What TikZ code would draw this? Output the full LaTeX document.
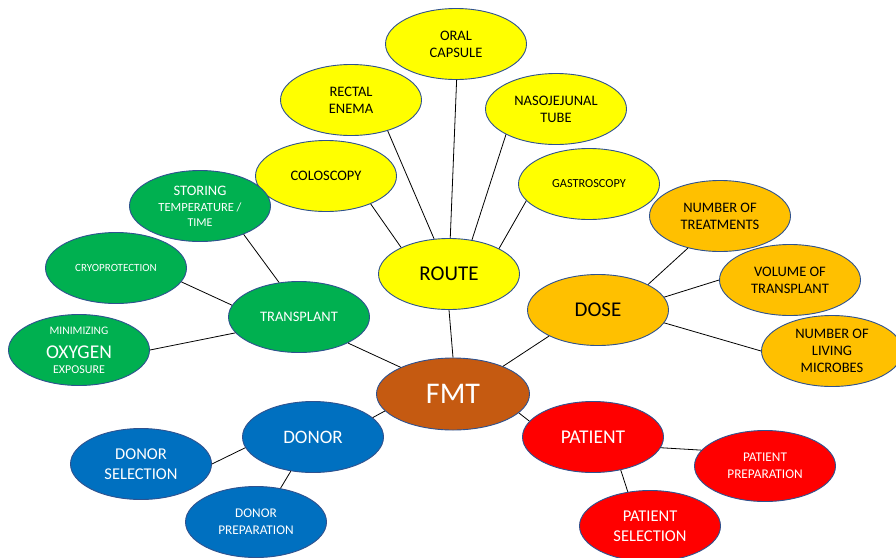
\documentclass[tikz,border=0pt]{standalone}
\usepackage{fontspec}
\setmainfont{Carlito}
\usetikzlibrary{shapes.geometric}
\definecolor{cyel}{HTML}{FFFF00}
\definecolor{corg}{HTML}{FFC000}
\definecolor{cgrn}{HTML}{00B050}
\definecolor{cblu}{HTML}{0070C0}
\definecolor{cred}{HTML}{FF0000}
\definecolor{cfmt}{HTML}{C55A11}
\definecolor{cedge}{HTML}{2F528F}
\newcommand\fsz[2]{\fontsize{#1}{#2}\selectfont}
\begin{document}
\begin{tikzpicture}[x=1pt,y=-1pt,
  bub/.style={ellipse, draw=cedge, line width=0.9pt, minimum width=141pt, minimum height=71pt, inner sep=0pt, align=center},
  yel/.style={bub, fill=cyel, text=black},
  org/.style={bub, fill=corg, text=black},
  grn/.style={bub, fill=cgrn, text=white},
  blu/.style={bub, fill=cblu, text=white},
  rd/.style={bub, fill=cred, text=white},
  link/.style={draw=black, line width=0.8pt}]
\useasboundingbox (0,0) rectangle (896,557);
% centre
\node[bub, fill=cfmt, text=white, minimum width=153pt, minimum height=72pt, font=\fsz{30}{34}] (fmt) at (453,394) {FMT};
% route
\node[yel, font=\fsz{21}{25}] (route) at (449,274) {ROUTE};
\node[yel, font=\fsz{14.5}{17}] (oral) at (456,44) {ORAL\\CAPSULE};
\node[yel, font=\fsz{14.5}{17}] (rectal) at (351,100) {RECTAL\\ENEMA};
\node[yel, font=\fsz{14.5}{17}] (naso) at (556,109) {NASOJEJUNAL\\TUBE};
\node[yel, font=\fsz{14.5}{17}] (colo) at (326,176) {COLOSCOPY};
\node[yel, font=\fsz{12.3}{14}] (gastro) at (589,184) {GASTROSCOPY};
% dose
\node[org, font=\fsz{21}{25}] (dose) at (598,310) {DOSE};
\node[org, font=\fsz{14.5}{17}] (treat) at (720,216) {NUMBER OF\\TREATMENTS};
\node[org, font=\fsz{14.5}{17}] (volume) at (790,280) {VOLUME OF\\TRANSPLANT};
\node[org, font=\fsz{14.5}{17}] (microbes) at (832,351) {NUMBER OF\\LIVING\\MICROBES};
% transplant
\node[grn, font=\fsz{14.5}{17}] (transplant) at (299,317) {TRANSPLANT};
\node[grn, inner ysep=-4pt, font=\fsz{12}{12}] (storing) at (200,206) {\fsz{14.5}{12}STORING\\[4pt]\fsz{12.5}{12}TEMPERATURE /\\[3pt]TIME};
\node[grn, font=\fsz{11}{13}] (cryo) at (116,268) {CRYOPROTECTION};
\node[grn, inner ysep=-6pt, font=\fsz{12}{12}] (oxygen) at (79,350) {\fsz{11.5}{12}MINIMIZING\\[10pt]\fsz{19.5}{12}OXYGEN\\[3pt]\fsz{12}{12}EXPOSURE};
% donor
\node[blu, font=\fsz{19}{23}] (donor) at (313,437) {DONOR};
\node[blu, font=\fsz{16.5}{20}] (dsel) at (141,464) {DONOR\\SELECTION};
\node[blu, font=\fsz{13.3}{17}] (dprep) at (256,522) {DONOR\\PREPARATION};
% patient
\node[rd, font=\fsz{19.5}{23}] (patient) at (593,437) {PATIENT};
\node[rd, font=\fsz{13.3}{17}] (pprep) at (765,466) {PATIENT\\PREPARATION};
\node[rd, font=\fsz{16.5}{20}] (psel) at (650,526) {PATIENT\\SELECTION};
% connectors
\draw[link] (route.270) -- (fmt.90);
\draw[link] (route.88.4) -- (oral.271.6);
\draw[link] (route.113.2) -- (rectal.-40.9);
\draw[link] (route.56.7) -- (naso.207.5);
\draw[link] (route.151.6) -- (colo.-32.5);
\draw[link] (route.27.5) -- (gastro.195.6);
\draw[link] (fmt.29) -- (dose.208.4);
\draw[link] (dose.27) -- (treat.225);
\draw[link] (dose.11.6) -- (volume.180);
\draw[link] (dose.-11) -- (microbes.180);
\draw[link] (fmt.153) -- (transplant.-28);
\draw[link] (transplant.120.5) -- (storing.-33);
\draw[link] (transplant.170.7) -- (cryo.-12);
\draw[link] (transplant.194.5) -- (oxygen.0);
\draw[link] (fmt.194.8) -- (donor.18.4);
\draw[link] (donor.189.3) -- (dsel.0);
\draw[link] (donor.237.8) -- (dprep.54.8);
\draw[link] (fmt.-16.3) -- (patient.166.6);
\draw[link] (patient.-9) -- (pprep.166.6);
\draw[link] (patient.-50.5) -- (psel.123.7);
\end{tikzpicture}
\end{document}
